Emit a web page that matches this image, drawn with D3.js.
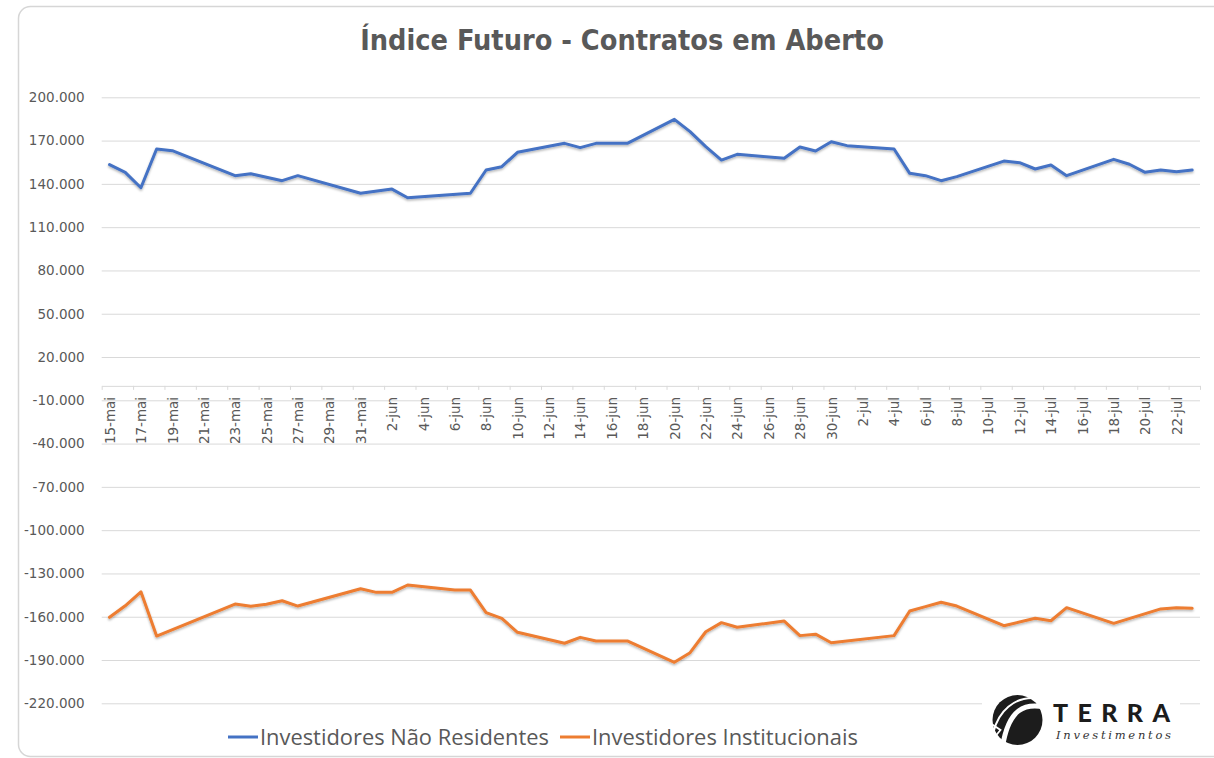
<!DOCTYPE html>
<html lang="pt-BR">
<head>
<meta charset="utf-8">
<title>Índice Futuro - Contratos em Aberto</title>
<script src="https://cdn.jsdelivr.net/npm/d3@7"></script>
<style>
  body { margin: 0; background: #fff; }
  svg { display: block; }
</style>
</head>
<body>
<div id="chart"></div>
<script>
// data (dates 2022, values in contracts)
const dates = [
  '2022-05-15', '2022-05-16', '2022-05-17', '2022-05-18', '2022-05-19',
  '2022-05-23', '2022-05-24', '2022-05-25', '2022-05-26', '2022-05-27',
  '2022-05-31', '2022-06-01', '2022-06-02', '2022-06-03', '2022-06-06',
  '2022-06-07', '2022-06-08', '2022-06-09', '2022-06-10', '2022-06-13',
  '2022-06-14', '2022-06-15', '2022-06-17', '2022-06-20', '2022-06-21',
  '2022-06-22', '2022-06-23', '2022-06-24', '2022-06-27', '2022-06-28',
  '2022-06-29', '2022-06-30', '2022-07-01', '2022-07-04', '2022-07-05',
  '2022-07-06', '2022-07-07', '2022-07-08', '2022-07-11', '2022-07-12',
  '2022-07-13', '2022-07-14', '2022-07-15', '2022-07-18', '2022-07-19',
  '2022-07-20', '2022-07-21', '2022-07-22', '2022-07-23'
];

const naoResidentes = [
  153300, 148000, 137300, 164200, 163000,
  145700, 147000, null, 142200, 145700,
  133500, null, 136400, 130400, null,
  133500, 149600, 151900, 161900, 168100,
  165100, 168100, 168100, 184700, 176200,
  165800, 156500, 160500, 157700, 165500,
  162800, 169200, 166500, 164200, 147300,
  145700, 142200, 145000, 155800, 154700,
  150300, 153100, 145700, 157000, 153600,
  148000, 149600, 148400, 149600
];

const institucionais = [
  -160400, -152400, -142700, -173400, null,
  -151200, -152800, -151400, -148900, -152600,
  -140600, -143100, -143100, -138000, -141400,
  -141500, -157200, -161100, -170800, -178400,
  -174300, -176800, -176800, -191600, -184900,
  -170400, -164100, -167300, -163000, -173100,
  -172100, -178000, null, -173100, -156000,
  -153000, -150000, -152600, -166200, null,
  -161100, -162800, -153700, -164600, null,
  null, -154600, -153700, -154200
];

const seriesNames = ['Investidores Não Residentes', 'Investidores Institucionais'];
const seriesColors = ['#4472C4', '#ED7D31'];
const yTicks = d3.range(-220000, 200001, 30000);
const axisStart = '2022-05-15';
const axisEnd = '2022-07-24';

const width = 1214;
const height = 758;
const plot = { left: 101.7, right: 1200, top: 97.3, bottom: 703.3 };
const labelFont = "'DejaVu Sans', sans-serif";

const parseDate = d3.timeParse('%Y-%m-%d');
const ptBR = d3.timeFormatLocale({
  dateTime: '%d/%m/%Y %H:%M:%S', date: '%d/%m/%Y', time: '%H:%M:%S',
  periods: ['AM', 'PM'],
  days: ['domingo', 'segunda', 'terça', 'quarta', 'quinta', 'sexta', 'sábado'],
  shortDays: ['dom', 'seg', 'ter', 'qua', 'qui', 'sex', 'sáb'],
  months: ['janeiro', 'fevereiro', 'março', 'abril', 'maio', 'junho', 'julho',
    'agosto', 'setembro', 'outubro', 'novembro', 'dezembro'],
  shortMonths: ['jan', 'fev', 'mar', 'abr', 'mai', 'jun', 'jul', 'ago', 'set', 'out', 'nov', 'dez']
});
const dayLabel = ptBR.format('%-d-%b');
const numFormat = d3.formatLocale({ decimal: ',', thousands: '.', grouping: [3], currency: ['R$', ''], minus: '-' }).format(',');

const rows = dates.map((d, i) => ({
  date: parseDate(d),
  values: [naoResidentes[i], institucionais[i]]
}));

const svg = d3.select('#chart').append('svg')
  .attr('width', width)
  .attr('height', height)
  .style('font-family', labelFont);

// soft shadow under the lines, like the Excel original
const defs = svg.append('defs');
const shadow = defs.append('filter').attr('id', 'shadow')
  .attr('x', '-5%').attr('y', '-20%').attr('width', '110%').attr('height', '140%');
shadow.append('feDropShadow')
  .attr('dx', 0).attr('dy', 1.5).attr('stdDeviation', 1.2)
  .attr('flood-color', '#000').attr('flood-opacity', 0.3);

// chart frame
svg.append('rect')
  .attr('x', 18.5).attr('y', 6.5)
  .attr('width', 1240).attr('height', 750)
  .attr('rx', 12)
  .attr('fill', '#fff')
  .attr('stroke', '#d6d6d6')
  .attr('stroke-width', 1.5);

// title
const title = svg.append('text')
  .attr('x', 622).attr('y', 50)
  .attr('text-anchor', 'middle')
  .attr('fill', '#595959')
  .style('font-family', "'Liberation Sans Narrow', 'DejaVu Sans Condensed', sans-serif")
  .style('font-stretch', 'condensed')
  .style('font-weight', 'bold')
  .style('font-size', '30px')
  .text('Índice Futuro - Contratos em Aberto');
const tw = title.node().getComputedTextLength();
title.style('font-size', (30 * 524 / tw) + 'px');

// scales
const x = d3.scaleTime()
  .domain([parseDate(axisStart), parseDate(axisEnd)])
  .range([plot.left, plot.right]);

const y = d3.scaleLinear()
  .domain([-220000, 200000])
  .range([plot.bottom, plot.top]);

const mid = (d) => d3.timeHour.offset(d, 12);

// gridlines + y labels
const yAxis = svg.append('g')
  .attr('transform', `translate(${plot.left},0)`)
  .call(d3.axisLeft(y)
    .tickValues(yTicks)
    .tickSize(-(plot.right - plot.left))
    .tickPadding(17)
    .tickFormat(numFormat));
yAxis.select('.domain').remove();
yAxis.selectAll('.tick line').attr('stroke', '#d9d9d9');
yAxis.selectAll('.tick text')
  .attr('fill', '#595959')
  .style('font-family', labelFont)
  .style('font-size', '13.5px');

// x axis at zero: tick marks on day boundaries, labels centred on the day
const tickDates = d3.timeDay.range(parseDate(axisStart), d3.timeDay.offset(parseDate(axisEnd), 1), 2);
const labelDates = tickDates.filter((d) => d < parseDate(axisEnd));

const xTicks = svg.append('g')
  .attr('transform', `translate(0,${y(0)})`)
  .call(d3.axisBottom(x).tickValues(tickDates).tickSize(4).tickSizeOuter(0).tickFormat(''));
xTicks.select('.domain').attr('stroke', '#d9d9d9');
xTicks.selectAll('.tick line').attr('stroke', '#d9d9d9');

const xLabels = svg.append('g')
  .attr('transform', `translate(0,${y(0)})`)
  .call(d3.axisBottom(x).tickValues(labelDates.map(mid)).tickSize(0).tickFormat(dayLabel));
xLabels.select('.domain').remove();
xLabels.selectAll('.tick text')
  .attr('transform', 'rotate(-90)')
  .attr('text-anchor', 'end')
  .attr('x', -11)
  .attr('y', 0)
  .attr('dy', '0.35em')
  .attr('fill', '#595959')
  .style('font-family', labelFont)
  .style('font-size', '13.5px');

// lines
const lines = svg.append('g').attr('class', 'lines');
seriesNames.forEach((name, i) => {
  const pts = rows.filter((r) => r.values[i] !== null);
  lines.append('path')
    .datum(pts)
    .attr('fill', 'none')
    .attr('stroke', seriesColors[i])
    .attr('stroke-width', 3)
    .attr('stroke-linejoin', 'round')
    .attr('stroke-linecap', 'round')
    .attr('filter', 'url(#shadow)')
    .attr('d', d3.line()
      .x((r) => x(mid(r.date)))
      .y((r) => y(r.values[i])));
});

// legend
const legendX = [228, 560];
seriesNames.forEach((name, i) => {
  const g = svg.append('g').attr('transform', `translate(${legendX[i]},737)`);
  g.append('line')
    .attr('x1', 0).attr('x2', 30)
    .attr('stroke', seriesColors[i])
    .attr('stroke-width', 3);
  const t = g.append('text')
    .attr('x', 32).attr('y', 8)
    .attr('fill', '#595959')
    .style('font-family', "'Open Sans', sans-serif")
    .style('font-size', '20px')
    .text(name);
  const target = i === 0 ? 289 : 266;
  t.style('font-size', (20 * target / t.node().getComputedTextLength()) + 'px');
});

// TERRA Investimentos logo
const logo = svg.append('g');
logo.append('rect')
  .attr('x', 982).attr('y', 690)
  .attr('width', 198).attr('height', 62)
  .attr('fill', '#fff');
const emblem = logo.append('g').attr('transform', 'translate(1017.5,720)');
emblem.append('circle').attr('r', 25).attr('fill', '#1c1c1c');
emblem.append('path')
  .attr('d', 'M 27 -13 C 8 -17, -9 -12, -15 27')
  .attr('fill', 'none').attr('stroke', '#fff').attr('stroke-width', 5);
emblem.append('path')
  .attr('d', 'M 17 -22 C -3 -23, -19 -9, -24 12')
  .attr('fill', 'none').attr('stroke', '#fff').attr('stroke-width', 2);
emblem.append('path')
  .attr('d', 'M -26 4 L -17 10 L -22 16')
  .attr('fill', 'none').attr('stroke', '#fff').attr('stroke-width', 1.8);
logo.append('text')
  .attr('x', 1053).attr('y', 722)
  .attr('fill', '#1c1c1c')
  .attr('textLength', 117)
  .attr('lengthAdjust', 'spacing')
  .style('font-family', "'Lato', 'DejaVu Sans', sans-serif")
  .style('font-weight', 900)
  .style('font-size', '25px')
  .text('TERRA');
logo.append('text')
  .attr('x', 1056).attr('y', 739)
  .attr('fill', '#333')
  .attr('textLength', 115)
  .attr('lengthAdjust', 'spacing')
  .style('font-family', "'DejaVu Serif', serif")
  .style('font-style', 'italic')
  .style('font-size', '11.5px')
  .text('Investimentos');
</script>
</body>
</html>
